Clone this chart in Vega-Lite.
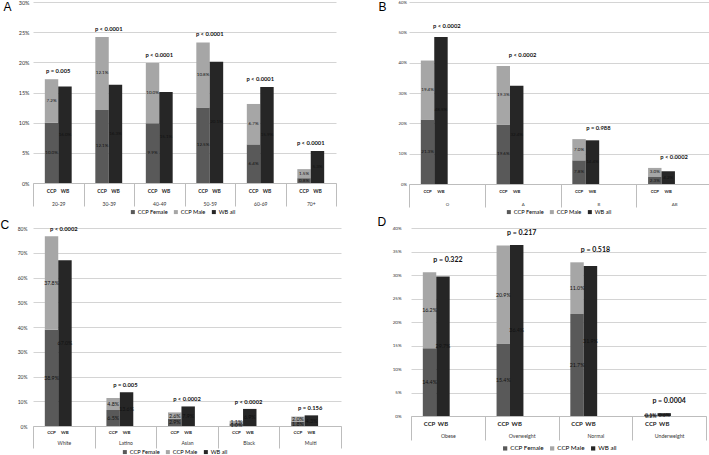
{
  "$schema": "https://vega.github.io/schema/vega-lite/v6.json",
  "padding": {"left": 0, "top": 0, "right": 0, "bottom": 0},
  "spacing": 0,
  "resolve": {"scale": {"color": "independent", "x": "independent", "y": "independent"}, "legend": {"color": "independent"}},
  "config": {"font": "Lato", "view": {"stroke": null}},
  "datasets": {
    "age": [
      {"group": "20-29", "bar": "CCP", "seg": "CCP Female", "value": 0.100, "p": "p = 0.005"},
      {"group": "20-29", "bar": "CCP", "seg": "CCP Male", "value": 0.072, "p": "p = 0.005"},
      {"group": "20-29", "bar": "WB", "seg": "WB all", "value": 0.160, "p": "p = 0.005"},
      {"group": "30-39", "bar": "CCP", "seg": "CCP Female", "value": 0.121, "p": "p < 0.0001"},
      {"group": "30-39", "bar": "CCP", "seg": "CCP Male", "value": 0.121, "p": "p < 0.0001"},
      {"group": "30-39", "bar": "WB", "seg": "WB all", "value": 0.163, "p": "p < 0.0001"},
      {"group": "40-49", "bar": "CCP", "seg": "CCP Female", "value": 0.099, "p": "p < 0.0001"},
      {"group": "40-49", "bar": "CCP", "seg": "CCP Male", "value": 0.100, "p": "p < 0.0001"},
      {"group": "40-49", "bar": "WB", "seg": "WB all", "value": 0.151, "p": "p < 0.0001"},
      {"group": "50-59", "bar": "CCP", "seg": "CCP Female", "value": 0.125, "p": "p < 0.0001"},
      {"group": "50-59", "bar": "CCP", "seg": "CCP Male", "value": 0.108, "p": "p < 0.0001"},
      {"group": "50-59", "bar": "WB", "seg": "WB all", "value": 0.201, "p": "p < 0.0001"},
      {"group": "60-69", "bar": "CCP", "seg": "CCP Female", "value": 0.064, "p": "p < 0.0001"},
      {"group": "60-69", "bar": "CCP", "seg": "CCP Male", "value": 0.067, "p": "p < 0.0001"},
      {"group": "60-69", "bar": "WB", "seg": "WB all", "value": 0.159, "p": "p < 0.0001"},
      {"group": "70+", "bar": "CCP", "seg": "CCP Female", "value": 0.008, "p": "p < 0.0001"},
      {"group": "70+", "bar": "CCP", "seg": "CCP Male", "value": 0.015, "p": "p < 0.0001"},
      {"group": "70+", "bar": "WB", "seg": "WB all", "value": 0.053, "p": "p < 0.0001"}
    ],
    "blood": [
      {"group": "O", "bar": "CCP", "seg": "CCP Female", "value": 0.213, "p": "p < 0.0002"},
      {"group": "O", "bar": "CCP", "seg": "CCP Male", "value": 0.194, "p": "p < 0.0002"},
      {"group": "O", "bar": "WB", "seg": "WB all", "value": 0.485, "p": "p < 0.0002"},
      {"group": "A", "bar": "CCP", "seg": "CCP Female", "value": 0.196, "p": "p < 0.0002"},
      {"group": "A", "bar": "CCP", "seg": "CCP Male", "value": 0.193, "p": "p < 0.0002"},
      {"group": "A", "bar": "WB", "seg": "WB all", "value": 0.324, "p": "p < 0.0002"},
      {"group": "B", "bar": "CCP", "seg": "CCP Female", "value": 0.078, "p": "p = 0.988"},
      {"group": "B", "bar": "CCP", "seg": "CCP Male", "value": 0.070, "p": "p = 0.988"},
      {"group": "B", "bar": "WB", "seg": "WB all", "value": 0.144, "p": "p = 0.988"},
      {"group": "AB", "bar": "CCP", "seg": "CCP Female", "value": 0.023, "p": "p < 0.0002"},
      {"group": "AB", "bar": "CCP", "seg": "CCP Male", "value": 0.030, "p": "p < 0.0002"},
      {"group": "AB", "bar": "WB", "seg": "WB all", "value": 0.042, "p": "p < 0.0002"}
    ],
    "race": [
      {"group": "White", "bar": "CCP", "seg": "CCP Female", "value": 0.389, "p": "p < 0.0002"},
      {"group": "White", "bar": "CCP", "seg": "CCP Male", "value": 0.378, "p": "p < 0.0002"},
      {"group": "White", "bar": "WB", "seg": "WB all", "value": 0.670, "p": "p < 0.0002"},
      {"group": "Latino", "bar": "CCP", "seg": "CCP Female", "value": 0.065, "p": "p = 0.005"},
      {"group": "Latino", "bar": "CCP", "seg": "CCP Male", "value": 0.048, "p": "p = 0.005"},
      {"group": "Latino", "bar": "WB", "seg": "WB all", "value": 0.136, "p": "p = 0.005"},
      {"group": "Asian", "bar": "CCP", "seg": "CCP Female", "value": 0.029, "p": "p < 0.0002"},
      {"group": "Asian", "bar": "CCP", "seg": "CCP Male", "value": 0.026, "p": "p < 0.0002"},
      {"group": "Asian", "bar": "WB", "seg": "WB all", "value": 0.079, "p": "p < 0.0002"},
      {"group": "Black", "bar": "CCP", "seg": "CCP Female", "value": 0.010, "p": "p < 0.0002"},
      {"group": "Black", "bar": "CCP", "seg": "CCP Male", "value": 0.011, "p": "p < 0.0002"},
      {"group": "Black", "bar": "WB", "seg": "WB all", "value": 0.069, "p": "p < 0.0002"},
      {"group": "Multi", "bar": "CCP", "seg": "CCP Female", "value": 0.018, "p": "p = 0.156"},
      {"group": "Multi", "bar": "CCP", "seg": "CCP Male", "value": 0.020, "p": "p = 0.156"},
      {"group": "Multi", "bar": "WB", "seg": "WB all", "value": 0.043, "p": "p = 0.156"}
    ],
    "bmi": [
      {"group": "Obese", "bar": "CCP", "seg": "CCP Female", "value": 0.144, "p": "p = 0.322"},
      {"group": "Obese", "bar": "CCP", "seg": "CCP Male", "value": 0.162, "p": "p = 0.322"},
      {"group": "Obese", "bar": "WB", "seg": "WB all", "value": 0.297, "p": "p = 0.322"},
      {"group": "Overweight", "bar": "CCP", "seg": "CCP Female", "value": 0.154, "p": "p = 0.217"},
      {"group": "Overweight", "bar": "CCP", "seg": "CCP Male", "value": 0.209, "p": "p = 0.217"},
      {"group": "Overweight", "bar": "WB", "seg": "WB all", "value": 0.364, "p": "p = 0.217"},
      {"group": "Normal", "bar": "CCP", "seg": "CCP Female", "value": 0.217, "p": "p = 0.518"},
      {"group": "Normal", "bar": "CCP", "seg": "CCP Male", "value": 0.110, "p": "p = 0.518"},
      {"group": "Normal", "bar": "WB", "seg": "WB all", "value": 0.319, "p": "p = 0.518"},
      {"group": "Underweight", "bar": "CCP", "seg": "CCP Female", "value": 0.002, "p": "p = 0.0004"},
      {"group": "Underweight", "bar": "CCP", "seg": "CCP Male", "value": 0.001, "p": "p = 0.0004"},
      {"group": "Underweight", "bar": "WB", "seg": "WB all", "value": 0.006, "p": "p = 0.0004"}
    ]
  },
  "vconcat": [
    {
      "spacing": 41,
      "resolve": {"scale": {"color": "independent", "x": "independent", "y": "independent"}, "legend": {"color": "independent"}},
      "hconcat": [
        {
          "width": 303, "height": 181,
          "data": {"name": "age"},
          "encoding": {
            "x": {"field": "group", "type": "nominal",
              "scale": {"domain": ["20-29", "30-39", "40-49", "50-59", "60-69", "70+"], "paddingInner": 0, "paddingOuter": 0},
              "axis": {"title": null, "labelAngle": 0, "tickBand": "extent", "tickSize": 23, "tickColor": "#bdbdbd", "domainColor": "#bdbdbd", "labelPadding": -5, "labelFontSize": 5, "labelColor": "#333", "grid": false}}
          },
          "layer": [
            {
              "transform": [{"stack": "value", "groupby": ["group", "bar"], "sort": [{"field": "seg", "order": "ascending"}], "as": ["v0", "v1"]}],
              "mark": {"type": "bar"},
              "encoding": {
                "xOffset": {"field": "bar", "type": "nominal", "scale": {"domain": ["CCP", "WB"], "paddingInner": 0, "paddingOuter": 0.88}},
                "y": {"field": "v0", "type": "quantitative", "scale": {"domain": [0, 0.3], "nice": false},
                  "axis": {"title": "A", "titleAngle": 0, "titleX": -30, "titleY": -1, "titleAlign": "left", "titleBaseline": "top", "titleFontSize": 12, "titleFontWeight": "normal", "titleFont": "Liberation Sans", "values": [0, 0.05, 0.1, 0.15, 0.2, 0.25, 0.3], "format": ".0%", "domain": false, "ticks": false, "labelFontSize": 5.5, "labelPadding": 4, "labelColor": "#333", "gridColor": "#d4d4d4"}},
                "y2": {"field": "v1"},
                "color": {"field": "seg", "type": "nominal",
                  "scale": {"domain": ["CCP Female", "CCP Male", "WB all"], "range": ["#595959", "#a6a6a6", "#262626"]},
                  "legend": {"orient": "none", "legendX": 97, "legendY": 207, "direction": "horizontal", "title": null, "symbolType": "square", "symbolSize": 16, "labelFontSize": 5.7, "columnPadding": 5, "labelOffset": 2, "symbolStrokeWidth": 0}}
              }
            },
            {
              "transform": [{"stack": "value", "groupby": ["group", "bar"], "sort": [{"field": "seg", "order": "ascending"}], "as": ["v0", "v1"]}, {"calculate": "(datum.v0 + datum.v1) / 2", "as": "mid"}],
              "mark": {"type": "text", "fontSize": 4.5, "color": "#111"},
              "encoding": {
                "xOffset": {"field": "bar", "type": "nominal", "scale": {"domain": ["CCP", "WB"], "paddingInner": 0, "paddingOuter": 0.88}},
                "y": {"field": "mid", "type": "quantitative",
                  "axis": {"title": "A", "titleAngle": 0, "titleX": -30, "titleY": -1, "titleAlign": "left", "titleBaseline": "top", "titleFontSize": 12, "titleFontWeight": "normal", "titleFont": "Liberation Sans", "values": [0, 0.05, 0.1, 0.15, 0.2, 0.25, 0.3], "format": ".0%", "domain": false, "ticks": false, "labelFontSize": 5.5, "labelPadding": 4, "labelColor": "#333", "gridColor": "#d4d4d4"}},
                "text": {"field": "value", "type": "quantitative", "format": ".1%"}
              }
            },
            {
              "transform": [{"aggregate": [{"op": "count", "as": "n"}], "groupby": ["group", "bar"]}],
              "mark": {"type": "text", "fontSize": 5, "fontWeight": "bold", "dy": 8, "baseline": "middle", "color": "#222"},
              "encoding": {
                "xOffset": {"field": "bar", "type": "nominal", "scale": {"domain": ["CCP", "WB"], "paddingInner": 0, "paddingOuter": 0.88}},
                "y": {"datum": 0, "type": "quantitative",
                  "axis": {"title": "A", "titleAngle": 0, "titleX": -30, "titleY": -1, "titleAlign": "left", "titleBaseline": "top", "titleFontSize": 12, "titleFontWeight": "normal", "titleFont": "Liberation Sans", "values": [0, 0.05, 0.1, 0.15, 0.2, 0.25, 0.3], "format": ".0%", "domain": false, "ticks": false, "labelFontSize": 5.5, "labelPadding": 4, "labelColor": "#333", "gridColor": "#d4d4d4"}},
                "text": {"field": "bar", "type": "nominal"}
              }
            },
            {
              "transform": [{"aggregate": [{"op": "sum", "field": "value", "as": "tot"}], "groupby": ["group", "bar", "p"]}, {"aggregate": [{"op": "max", "field": "tot", "as": "top"}], "groupby": ["group", "p"]}],
              "mark": {"type": "text", "fontSize": 5.8, "fontWeight": "bold", "dy": -8, "baseline": "middle", "color": "#111"},
              "encoding": {
                "y": {"field": "top", "type": "quantitative",
                  "axis": {"title": "A", "titleAngle": 0, "titleX": -30, "titleY": -1, "titleAlign": "left", "titleBaseline": "top", "titleFontSize": 12, "titleFontWeight": "normal", "titleFont": "Liberation Sans", "values": [0, 0.05, 0.1, 0.15, 0.2, 0.25, 0.3], "format": ".0%", "domain": false, "ticks": false, "labelFontSize": 5.5, "labelPadding": 4, "labelColor": "#333", "gridColor": "#d4d4d4"}},
                "text": {"field": "p", "type": "nominal"}
              }
            }
          ]
        },
        {
          "width": 303, "height": 182,
          "data": {"name": "blood"},
          "encoding": {
            "x": {"field": "group", "type": "nominal",
              "scale": {"domain": ["O", "A", "B", "AB"], "paddingInner": 0, "paddingOuter": 0},
              "axis": {"title": null, "labelAngle": 0, "tickBand": "extent", "tickSize": 23, "tickColor": "#bdbdbd", "domainColor": "#bdbdbd", "labelPadding": -5, "labelFontSize": 4.3, "labelColor": "#333", "grid": false}}
          },
          "layer": [
            {
              "transform": [{"stack": "value", "groupby": ["group", "bar"], "sort": [{"field": "seg", "order": "ascending"}], "as": ["v0", "v1"]}],
              "mark": {"type": "bar"},
              "encoding": {
                "xOffset": {"field": "bar", "type": "nominal", "scale": {"domain": ["CCP", "WB"], "paddingInner": 0, "paddingOuter": 0.94}},
                "y": {"field": "v0", "type": "quantitative", "scale": {"domain": [0, 0.6], "nice": false},
                  "axis": {"title": "B", "titleAngle": 0, "titleX": -31, "titleY": -1, "titleAlign": "left", "titleBaseline": "top", "titleFontSize": 12, "titleFontWeight": "normal", "titleFont": "Liberation Sans", "values": [0, 0.1, 0.2, 0.3, 0.4, 0.5, 0.6], "format": ".0%", "domain": false, "ticks": false, "labelFontSize": 4.3, "labelPadding": 2.5, "labelColor": "#333", "gridColor": "#d4d4d4"}},
                "y2": {"field": "v1"},
                "color": {"field": "seg", "type": "nominal",
                  "scale": {"domain": ["CCP Female", "CCP Male", "WB all"], "range": ["#595959", "#a6a6a6", "#262626"]},
                  "legend": {"orient": "none", "legendX": 97, "legendY": 207, "direction": "horizontal", "title": null, "symbolType": "square", "symbolSize": 16, "labelFontSize": 5.7, "columnPadding": 5, "labelOffset": 2, "symbolStrokeWidth": 0}}
              }
            },
            {
              "transform": [{"stack": "value", "groupby": ["group", "bar"], "sort": [{"field": "seg", "order": "ascending"}], "as": ["v0", "v1"]}, {"calculate": "(datum.v0 + datum.v1) / 2", "as": "mid"}],
              "mark": {"type": "text", "fontSize": 4.5, "color": "#111"},
              "encoding": {
                "xOffset": {"field": "bar", "type": "nominal", "scale": {"domain": ["CCP", "WB"], "paddingInner": 0, "paddingOuter": 0.94}},
                "y": {"field": "mid", "type": "quantitative",
                  "axis": {"title": "B", "titleAngle": 0, "titleX": -31, "titleY": -1, "titleAlign": "left", "titleBaseline": "top", "titleFontSize": 12, "titleFontWeight": "normal", "titleFont": "Liberation Sans", "values": [0, 0.1, 0.2, 0.3, 0.4, 0.5, 0.6], "format": ".0%", "domain": false, "ticks": false, "labelFontSize": 4.3, "labelPadding": 2.5, "labelColor": "#333", "gridColor": "#d4d4d4"}},
                "text": {"field": "value", "type": "quantitative", "format": ".1%"}
              }
            },
            {
              "transform": [{"aggregate": [{"op": "count", "as": "n"}], "groupby": ["group", "bar"]}],
              "mark": {"type": "text", "fontSize": 4.3, "fontWeight": "bold", "dy": 8, "baseline": "middle", "color": "#222"},
              "encoding": {
                "xOffset": {"field": "bar", "type": "nominal", "scale": {"domain": ["CCP", "WB"], "paddingInner": 0, "paddingOuter": 0.94}},
                "y": {"datum": 0, "type": "quantitative",
                  "axis": {"title": "B", "titleAngle": 0, "titleX": -31, "titleY": -1, "titleAlign": "left", "titleBaseline": "top", "titleFontSize": 12, "titleFontWeight": "normal", "titleFont": "Liberation Sans", "values": [0, 0.1, 0.2, 0.3, 0.4, 0.5, 0.6], "format": ".0%", "domain": false, "ticks": false, "labelFontSize": 4.3, "labelPadding": 2.5, "labelColor": "#333", "gridColor": "#d4d4d4"}},
                "text": {"field": "bar", "type": "nominal"}
              }
            },
            {
              "transform": [{"aggregate": [{"op": "sum", "field": "value", "as": "tot"}], "groupby": ["group", "bar", "p"]}, {"aggregate": [{"op": "max", "field": "tot", "as": "top"}], "groupby": ["group", "p"]}],
              "mark": {"type": "text", "fontSize": 5.8, "fontWeight": "bold", "dy": -11, "baseline": "middle", "color": "#111"},
              "encoding": {
                "y": {"field": "top", "type": "quantitative",
                  "axis": {"title": "B", "titleAngle": 0, "titleX": -31, "titleY": -1, "titleAlign": "left", "titleBaseline": "top", "titleFontSize": 12, "titleFontWeight": "normal", "titleFont": "Liberation Sans", "values": [0, 0.1, 0.2, 0.3, 0.4, 0.5, 0.6], "format": ".0%", "domain": false, "ticks": false, "labelFontSize": 4.3, "labelPadding": 2.5, "labelColor": "#333", "gridColor": "#d4d4d4"}},
                "text": {"field": "p", "type": "nominal"}
              }
            }
          ]
        }
      ]
    },
    {
      "spacing": 35,
      "resolve": {"scale": {"color": "independent", "x": "independent", "y": "independent"}, "legend": {"color": "independent"}},
      "hconcat": [
        {
          "width": 308, "height": 198,
          "data": {"name": "race"},
          "encoding": {
            "x": {"field": "group", "type": "nominal",
              "scale": {"domain": ["White", "Latino", "Asian", "Black", "Multi"], "paddingInner": 0, "paddingOuter": 0},
              "axis": {"title": null, "labelAngle": 0, "tickBand": "extent", "tickSize": 22, "tickColor": "#bdbdbd", "domainColor": "#bdbdbd", "labelPadding": -7.5, "labelFontSize": 5, "labelColor": "#333", "grid": false}}
          },
          "layer": [
            {
              "transform": [{"stack": "value", "groupby": ["group", "bar"], "sort": [{"field": "seg", "order": "ascending"}], "as": ["v0", "v1"]}],
              "mark": {"type": "bar"},
              "encoding": {
                "xOffset": {"field": "bar", "type": "nominal", "scale": {"domain": ["CCP", "WB"], "paddingInner": 0, "paddingOuter": 0.99}},
                "y": {"field": "v0", "type": "quantitative", "scale": {"domain": [0, 0.8], "nice": false},
                  "axis": {"title": "C", "titleAngle": 0, "titleX": -33, "titleY": -9, "titleAlign": "left", "titleBaseline": "top", "titleFontSize": 12, "titleFontWeight": "normal", "titleFont": "Liberation Sans", "values": [0, 0.1, 0.2, 0.3, 0.4, 0.5, 0.6, 0.7, 0.8], "format": ".0%", "domain": false, "ticks": false, "labelFontSize": 5, "labelPadding": 6, "labelColor": "#333", "gridColor": "#d4d4d4"}},
                "y2": {"field": "v1"},
                "color": {"field": "seg", "type": "nominal",
                  "scale": {"domain": ["CCP Female", "CCP Male", "WB all"], "range": ["#595959", "#a6a6a6", "#262626"]},
                  "legend": {"orient": "none", "legendX": 89, "legendY": 221, "direction": "horizontal", "title": null, "symbolType": "square", "symbolSize": 16, "labelFontSize": 5.7, "columnPadding": 5, "labelOffset": 2, "symbolStrokeWidth": 0}}
              }
            },
            {
              "transform": [{"stack": "value", "groupby": ["group", "bar"], "sort": [{"field": "seg", "order": "ascending"}], "as": ["v0", "v1"]}, {"calculate": "(datum.v0 + datum.v1) / 2", "as": "mid"}],
              "mark": {"type": "text", "fontSize": 5.3, "color": "#111"},
              "encoding": {
                "xOffset": {"field": "bar", "type": "nominal", "scale": {"domain": ["CCP", "WB"], "paddingInner": 0, "paddingOuter": 0.99}},
                "y": {"field": "mid", "type": "quantitative",
                  "axis": {"title": "C", "titleAngle": 0, "titleX": -33, "titleY": -9, "titleAlign": "left", "titleBaseline": "top", "titleFontSize": 12, "titleFontWeight": "normal", "titleFont": "Liberation Sans", "values": [0, 0.1, 0.2, 0.3, 0.4, 0.5, 0.6, 0.7, 0.8], "format": ".0%", "domain": false, "ticks": false, "labelFontSize": 5, "labelPadding": 6, "labelColor": "#333", "gridColor": "#d4d4d4"}},
                "text": {"field": "value", "type": "quantitative", "format": ".1%"}
              }
            },
            {
              "transform": [{"aggregate": [{"op": "count", "as": "n"}], "groupby": ["group", "bar"]}],
              "mark": {"type": "text", "fontSize": 4.5, "fontWeight": "bold", "dy": 7, "baseline": "middle", "color": "#222"},
              "encoding": {
                "xOffset": {"field": "bar", "type": "nominal", "scale": {"domain": ["CCP", "WB"], "paddingInner": 0, "paddingOuter": 0.99}},
                "y": {"datum": 0, "type": "quantitative",
                  "axis": {"title": "C", "titleAngle": 0, "titleX": -33, "titleY": -9, "titleAlign": "left", "titleBaseline": "top", "titleFontSize": 12, "titleFontWeight": "normal", "titleFont": "Liberation Sans", "values": [0, 0.1, 0.2, 0.3, 0.4, 0.5, 0.6, 0.7, 0.8], "format": ".0%", "domain": false, "ticks": false, "labelFontSize": 5, "labelPadding": 6, "labelColor": "#333", "gridColor": "#d4d4d4"}},
                "text": {"field": "bar", "type": "nominal"}
              }
            },
            {
              "transform": [{"aggregate": [{"op": "sum", "field": "value", "as": "tot"}], "groupby": ["group", "bar", "p"]}, {"aggregate": [{"op": "max", "field": "tot", "as": "top"}], "groupby": ["group", "p"]}],
              "mark": {"type": "text", "fontSize": 5.8, "fontWeight": "bold", "dy": -7, "baseline": "middle", "color": "#111"},
              "encoding": {
                "y": {"field": "top", "type": "quantitative",
                  "axis": {"title": "C", "titleAngle": 0, "titleX": -33, "titleY": -9, "titleAlign": "left", "titleBaseline": "top", "titleFontSize": 12, "titleFontWeight": "normal", "titleFont": "Liberation Sans", "values": [0, 0.1, 0.2, 0.3, 0.4, 0.5, 0.6, 0.7, 0.8], "format": ".0%", "domain": false, "ticks": false, "labelFontSize": 5, "labelPadding": 6, "labelColor": "#333", "gridColor": "#d4d4d4"}},
                "text": {"field": "p", "type": "nominal"}
              }
            }
          ]
        },
        {
          "width": 295, "height": 188,
          "data": {"name": "bmi"},
          "encoding": {
            "x": {"field": "group", "type": "nominal",
              "scale": {"domain": ["Obese", "Overweight", "Normal", "Underweight"], "paddingInner": 0, "paddingOuter": 0},
              "axis": {"title": null, "labelAngle": 0, "tickBand": "extent", "tickSize": 24, "tickColor": "#bdbdbd", "domainColor": "#bdbdbd", "labelPadding": -6.5, "labelFontSize": 5.2, "labelColor": "#333", "grid": false}}
          },
          "layer": [
            {
              "transform": [{"stack": "value", "groupby": ["group", "bar"], "sort": [{"field": "seg", "order": "ascending"}], "as": ["v0", "v1"]}],
              "mark": {"type": "bar"},
              "encoding": {
                "xOffset": {"field": "bar", "type": "nominal", "scale": {"domain": ["CCP", "WB"], "paddingInner": 0, "paddingOuter": 0.99}},
                "y": {"field": "v0", "type": "quantitative", "scale": {"domain": [0, 0.4], "nice": false},
                  "axis": {"title": "D", "titleAngle": 0, "titleX": -34, "titleY": -12, "titleAlign": "left", "titleBaseline": "top", "titleFontSize": 12, "titleFontWeight": "normal", "titleFont": "Liberation Sans", "values": [0, 0.05, 0.1, 0.15, 0.2, 0.25, 0.3, 0.35, 0.4], "format": ".0%", "domain": false, "ticks": false, "labelFontSize": 4.5, "labelPadding": 10, "labelColor": "#333", "gridColor": "#d4d4d4"}},
                "y2": {"field": "v1"},
                "color": {"field": "seg", "type": "nominal",
                  "scale": {"domain": ["CCP Female", "CCP Male", "WB all"], "range": ["#595959", "#a6a6a6", "#262626"]},
                  "legend": {"orient": "none", "legendX": 91, "legendY": 217, "direction": "horizontal", "title": null, "symbolType": "square", "symbolSize": 18, "labelFontSize": 6.3, "columnPadding": 5, "labelOffset": 2, "symbolStrokeWidth": 0}}
              }
            },
            {
              "transform": [{"stack": "value", "groupby": ["group", "bar"], "sort": [{"field": "seg", "order": "ascending"}], "as": ["v0", "v1"]}, {"calculate": "(datum.v0 + datum.v1) / 2", "as": "mid"}],
              "mark": {"type": "text", "fontSize": 5.3, "color": "#111"},
              "encoding": {
                "xOffset": {"field": "bar", "type": "nominal", "scale": {"domain": ["CCP", "WB"], "paddingInner": 0, "paddingOuter": 0.99}},
                "y": {"field": "mid", "type": "quantitative",
                  "axis": {"title": "D", "titleAngle": 0, "titleX": -34, "titleY": -12, "titleAlign": "left", "titleBaseline": "top", "titleFontSize": 12, "titleFontWeight": "normal", "titleFont": "Liberation Sans", "values": [0, 0.05, 0.1, 0.15, 0.2, 0.25, 0.3, 0.35, 0.4], "format": ".0%", "domain": false, "ticks": false, "labelFontSize": 4.5, "labelPadding": 10, "labelColor": "#333", "gridColor": "#d4d4d4"}},
                "text": {"field": "value", "type": "quantitative", "format": ".1%"}
              }
            },
            {
              "transform": [{"aggregate": [{"op": "count", "as": "n"}], "groupby": ["group", "bar"]}],
              "mark": {"type": "text", "fontSize": 6, "fontWeight": "bold", "dy": 8, "baseline": "middle", "color": "#222"},
              "encoding": {
                "xOffset": {"field": "bar", "type": "nominal", "scale": {"domain": ["CCP", "WB"], "paddingInner": 0, "paddingOuter": 0.99}},
                "y": {"datum": 0, "type": "quantitative",
                  "axis": {"title": "D", "titleAngle": 0, "titleX": -34, "titleY": -12, "titleAlign": "left", "titleBaseline": "top", "titleFontSize": 12, "titleFontWeight": "normal", "titleFont": "Liberation Sans", "values": [0, 0.05, 0.1, 0.15, 0.2, 0.25, 0.3, 0.35, 0.4], "format": ".0%", "domain": false, "ticks": false, "labelFontSize": 4.5, "labelPadding": 10, "labelColor": "#333", "gridColor": "#d4d4d4"}},
                "text": {"field": "bar", "type": "nominal"}
              }
            },
            {
              "transform": [{"aggregate": [{"op": "sum", "field": "value", "as": "tot"}], "groupby": ["group", "bar", "p"]}, {"aggregate": [{"op": "max", "field": "tot", "as": "top"}], "groupby": ["group", "p"]}],
              "mark": {"type": "text", "fontSize": 7, "fontWeight": "bold", "dy": -12, "baseline": "middle", "color": "#111"},
              "encoding": {
                "y": {"field": "top", "type": "quantitative",
                  "axis": {"title": "D", "titleAngle": 0, "titleX": -34, "titleY": -12, "titleAlign": "left", "titleBaseline": "top", "titleFontSize": 12, "titleFontWeight": "normal", "titleFont": "Liberation Sans", "values": [0, 0.05, 0.1, 0.15, 0.2, 0.25, 0.3, 0.35, 0.4], "format": ".0%", "domain": false, "ticks": false, "labelFontSize": 4.5, "labelPadding": 10, "labelColor": "#333", "gridColor": "#d4d4d4"}},
                "text": {"field": "p", "type": "nominal"}
              }
            }
          ]
        }
      ]
    }
  ]
}
